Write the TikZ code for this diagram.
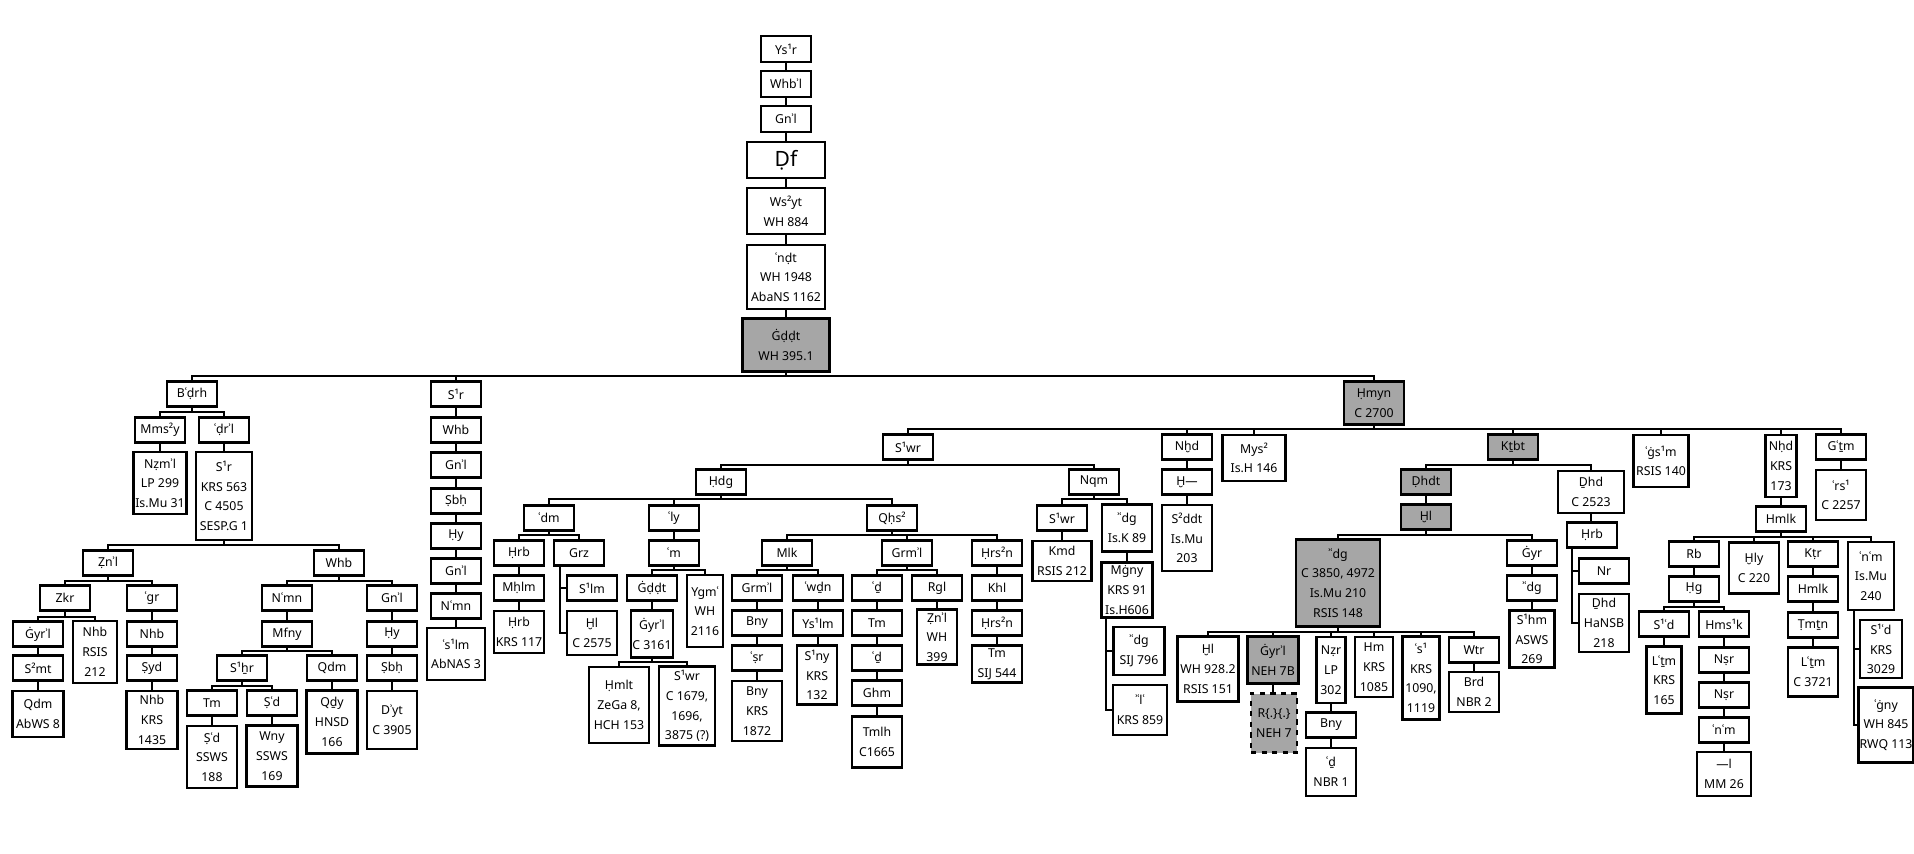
\documentclass[tikz,border=0pt]{standalone}
\usepackage{fontspec}
\setmainfont{Noto Sans}
\definecolor{boxgray}{RGB}{166,166,166}
\tikzset{
  box/.style={draw, line width=1.4pt, fill=white, inner sep=0.5pt, align=center, font=\fontsize{7}{11.2}\selectfont},
  gbox/.style={fill=boxgray},
  dbox/.style={fill=boxgray, dashed},
  edge/.style={line width=1.4pt}
}
\newcommand\B[6][]{\node[box,#1,minimum width=#4*0.02cm,minimum height=#5*0.02cm] (#2) at (#3) {#6};}
\newcommand\bus[3]{\foreach \c in {#2}{\draw[edge] (#1.south) -- (#1.south |- 0,#3) -| (\c.north);}}
\newcommand\ch[2]{\draw[edge] (#1.south) -- (#1.south |- #2.north);}
\begin{document}
\begin{tikzpicture}[x=0.02cm,y=-0.02cm]
\useasboundingbox (0,0) rectangle (1914,854);
% top chain
\B{t1}{786,49}{50}{26}{Ys¹r}
\B{t2}{786,84}{50}{26}{Whbʾl}
\B{t3}{786,119}{50}{26}{Gnʾl}
\B{t4}{786,160}{78}{36}{\fontsize{12}{14}\selectfont\bfseries Ḍf}
\B{t5}{786,211}{78}{46}{Ws²yt\\WH 884}
\B{t6}{786,277}{78}{64}{ʿnḍt\\WH 1948\\AbaNS 1162}
\B[gbox]{t7}{786,345}{87}{53}{Ġḍḍt\\WH 395.1}
% left branch
\B{a1}{192,394}{50}{25}{Bʿḍrh}
\B{a2}{160,430}{50}{25}{Mms²y}
\B{a3}{224,430}{50}{25}{ʿḍrʾl}
\B{a4}{160,483}{53}{62}{Nẓmʾl\\LP 299\\Is.Mu 31}
\B{a5}{224,496}{56}{88}{S¹r\\KRS 563\\C 4505\\SESP.G 1}
\B{a6}{108,563}{50}{25}{Ẓnʾl}
\B{a7}{339,563}{50}{25}{Whb}
\B{a8}{65,598}{50}{25}{Zkr}
\B{a9}{152,598}{50}{25}{ʿgr}
\B{a10}{287,598}{50}{25}{Nʿmn}
\B{a11}{392,598}{50}{25}{Gnʾl}
\B{a12}{38,634}{50}{25}{Ġyrʾl}
\B{a13}{95,652}{44}{62}{Nhb\\RSIS\\212}
\B{a14}{152,634}{50}{25}{Nhb}
\B{a15}{287,634}{50}{25}{Mfny}
\B{a16}{392,634}{50}{25}{Ḥy}
\B{a17}{38,668}{50}{25}{S²mt}
\B{a18}{152,668}{50}{25}{Ṣyd}
\B{a19}{242,668}{50}{25}{S¹ẖr}
\B{a20}{332,668}{50}{25}{Qdm}
\B{a21}{392,668}{50}{25}{Ṣbḥ}
\B{a22}{38,714}{51}{46}{Qdm\\AbWS 8}
\B{a23}{152,720}{51}{58}{Nhb\\KRS\\1435}
\B{a24}{212,703}{50}{25}{Tm}
\B{a25}{272,703}{50}{25}{Ṣʿd}
\B{a26}{332,722}{51}{63}{Qḏy\\HNSD\\166}
\B{a27}{392,720}{50}{58}{Dʾyt\\C 3905}
\B{a28}{212,757}{50}{62}{Ṣʿd\\SSWS\\188}
\B{a29}{272,756}{51}{61}{Wny\\SSWS\\169}
% S1r column
\B{b1}{456,394}{50}{25}{S¹r}
\B{b2}{456,430}{50}{25}{Whb}
\B{b3}{456,465}{50}{25}{Gnʾl}
\B{b4}{456,501}{50}{25}{Ṣbḥ}
\B{b5}{456,536}{50}{25}{Ḥy}
\B{b6}{456,571}{50}{25}{Gnʾl}
\B{b7}{456,606}{50}{25}{Nʿmn}
\B{b8}{456,654}{58}{52}{ʿs¹lm\\AbNAS 3}
% Hmyn
\B[gbox]{h1}{1374,403}{60}{43}{Ḥmyn\\C 2700}
\B{c1}{908,447}{50}{25}{S¹wr}
\B{n1}{1187,447}{50}{25}{Nḫd}
\B{m1}{1254,458}{63}{46}{Mys²\\Is.H 146}
\B[gbox]{k1}{1513,447}{50}{25}{Kṯbt}
\B{g1}{1661,461}{55}{52}{ʿġs¹m\\RSIS 140}
\B{r1}{1781,466}{31}{62}{Nḥd\\KRS\\173}
\B{q1}{1841,447}{50}{25}{Gʿṯm}
\B{c2}{721,482}{50}{25}{Ḥdg}
\B{c3}{1094,482}{50}{25}{Nqm}
\B{d1}{549,518}{50}{25}{ʿdm}
\B{d2}{674,518}{50}{25}{ʿly}
\B{d3}{892,518}{50}{25}{Qḥs²}
\B{e1}{519,553}{50}{25}{Ḥrb}
\B{e2}{579,553}{50}{25}{Grz}
\B{e3}{519,588}{50}{25}{Mḥlm}
\B{e4}{519,632}{50}{42}{Ḥrb\\KRS 117}
\B{e5}{592,588}{50}{25}{S¹lm}
\B{e6}{592,633}{50}{44}{Ḫl\\C 2575}
\B{e7}{674,553}{50}{25}{ʿm}
\B{e8}{652,588}{50}{25}{Ġḍḍt}
\B{e9}{705,611}{36}{72}{Ygmʿ\\WH\\2116}
\B{e10}{652,634}{42}{47}{Ġyrʾl\\C 3161}
\B{e11}{619,705}{60}{76}{Ḥmlt\\ZeGa 8,\\HCH 153}
\B{e12}{687,706}{56}{79}{S¹wr\\C 1679,\\1696,\\3875 (?)}
\B{f1}{787,553}{50}{25}{Mlk}
\B{f2}{907,553}{50}{25}{Grmʾl}
\B{f3}{997,553}{50}{25}{Ḥrs²n}
\B{f4}{757,588}{50}{25}{Grmʾl}
\B{f5}{818,588}{50}{25}{ʿwḏn}
\B{f6}{757,623}{50}{25}{Bny}
\B{f7}{757,658}{50}{25}{ʿṣr}
\B{f8}{757,711}{50}{60}{Bny\\KRS\\1872}
\B{f9}{818,623}{50}{25}{Ys¹lm}
\B{f10}{817,675}{40}{59}{S¹ny\\KRS\\132}
\B{f11}{877,588}{50}{25}{ʿḏ}
\B{f12}{937,588}{50}{25}{Rgl}
\B{f13}{877,623}{50}{25}{Tm}
\B{f14}{877,658}{50}{25}{ʿḏ}
\B{f15}{877,693}{50}{25}{Ghm}
\B{f16}{877,742}{50}{51}{Tmlh\\C1665}
\B{f17}{937,637}{40}{55}{Ẓnʾl\\WH\\399}
\B{f18}{997,588}{50}{25}{Khl}
\B{f19}{997,623}{50}{25}{Ḥrs²n}
\B{f20}{997,664}{50}{37}{Tm\\SIJ 544}
\B{g2}{1062,518}{50}{25}{S¹wr}
\B{g3}{1127,528}{50}{47}{ʾʿdg\\Is.K 89}
\B{g4}{1062,561}{59}{40}{Kmd\\RSIS 212}
\B{g5}{1127,590}{51}{55}{Mġny\\KRS 91\\Is.H606}
\B{g6}{1139,651}{51}{48}{ʾʿdg\\SIJ 796}
\B{g7}{1140,710}{54}{50}{ʾʿlʿ\\KRS 859}
\B{n2}{1187,482}{50}{25}{Ḫ---}
\B{n3}{1187,538}{50}{66}{S²ddt\\Is.Mu\\203}
\B[gbox]{k2}{1426,482}{50}{25}{Ḍhdt}
\B{k3}{1591,492}{66}{42}{Ḏhd\\C 2523}
\B[gbox]{k4}{1426,517}{50}{25}{Ḫl}
\B[gbox]{k5}{1338,583}{84}{87}{ʾʿdg\\C 3850, 4972\\Is.Mu 210\\RSIS 148}
\B{k6}{1532,553}{50}{25}{Ġyr}
\B{k7}{1532,588}{50}{25}{ʾʿdg}
\B{k8}{1532,639}{45}{57}{S¹hm\\ASWS\\269}
\B{p1}{1208,669}{61}{65}{Ḫl\\WH 928.2\\RSIS 151}
\B[gbox]{p2}{1273,660}{51}{47}{Ġyrʾl\\NEH 7B}
\B{p3}{1331,670}{29}{66}{Nẓr\\LP\\302}
\B{p4}{1374,667}{38}{60}{Hm\\KRS\\1085}
\B{p5}{1421,678}{37}{83}{ʿs¹\\KRS\\1090,\\1119}
\B{p6}{1474,650}{50}{25}{Wtr}
\B[dbox]{p7}{1274,723}{46}{59}{R\{.\}\{.\}\\NEH 7}
\B{p8}{1331,725}{50}{25}{Bny}
\B{p9}{1331,772}{50}{48}{ʿḏ\\NBR 1}
\B{p10}{1474,692}{50}{40}{Brd\\NBR 2}
\B{k9}{1592,535}{50}{25}{Ḥrb}
\B{k10}{1604,571}{50}{25}{Nr}
\B{k11}{1604,623}{50}{58}{Ḏhd\\HaNSB\\218}
\B{r2}{1781,519}{50}{25}{Hmlk}
\B{s1}{1694,554}{50}{25}{Rb}
\B{s2}{1754,568}{50}{51}{Ḫly\\C 220}
\B{s3}{1813,554}{50}{25}{Kṭr}
\B{s4}{1871,576}{46}{68}{ʿnʿm\\Is.Mu\\240}
\B{s5}{1694,589}{50}{25}{Ḥg}
\B{s6}{1664,624}{50}{25}{S¹ʿd}
\B{s7}{1724,624}{50}{25}{Hms¹k}
\B{s8}{1664,680}{35}{67}{Lʿṯm\\KRS\\165}
\B{s9}{1724,660}{50}{25}{Nṣr}
\B{s10}{1724,695}{50}{25}{Nṣr}
\B{s11}{1724,730}{50}{25}{ʿnʿm}
\B{s12}{1724,774}{54}{44}{---l\\MM 26}
\B{s13}{1813,589}{50}{25}{Hmlk}
\B{s14}{1813,625}{50}{25}{Ṭmṯn}
\B{s15}{1813,672}{50}{49}{Lʿṯm\\C 3721}
\B{s16}{1881,649}{42}{58}{S¹ʿd\\KRS\\3029}
\B{s17}{1886,725}{55}{75}{ʿġny\\WH 845\\RWQ 113}
\B{q2}{1841,495}{50}{50}{ʿrs¹\\C 2257}
% edges
\begin{scope}[on background layer/.try]
\end{scope}
\ch{t1}{t2}\ch{t2}{t3}\ch{t3}{t4}\ch{t4}{t5}\ch{t5}{t6}\ch{t6}{t7}
\bus{t7}{a1,b1,h1}{376}
\bus{a1}{a2,a3}{412}
\ch{a2}{a4}\ch{a3}{a5}
\bus{a5}{a6,a7}{545}
\bus{a6}{a8,a9}{581}
\bus{a7}{a10,a11}{581}
\bus{a8}{a12,a13}{617}
\ch{a9}{a14}\ch{a14}{a18}\ch{a18}{a23}\ch{a12}{a17}\ch{a17}{a22}\ch{a10}{a15}
\bus{a15}{a19,a20}{651}
\bus{a19}{a24,a25}{686}
\ch{a24}{a28}\ch{a25}{a29}\ch{a20}{a26}\ch{a11}{a16}\ch{a16}{a21}\ch{a21}{a27}
\ch{b1}{b2}\ch{b2}{b3}\ch{b3}{b4}\ch{b4}{b5}\ch{b5}{b6}\ch{b6}{b7}\ch{b7}{b8}
\bus{h1}{c1,n1,m1,k1,g1,r1,q1}{429}
\bus{c1}{c2,c3}{465}
\bus{c2}{d1,d2,d3}{499}
\bus{d1}{e1,e2}{535}
\ch{e1}{e3}\ch{e3}{e4}
\draw[edge] (e2.south -| 560,0) |- (e5.west) (e2.south -| 560,0) |- (e6.west);
\ch{d2}{e7}
\bus{e7}{e8,e9}{570}
\ch{e8}{e10}
\bus{e10}{e11,e12}{662}
\bus{d3}{f1,f2,f3}{535}
\bus{f1}{f4,f5}{570}
\ch{f4}{f6}\ch{f6}{f7}\ch{f7}{f8}\ch{f5}{f9}\ch{f9}{f10}
\bus{f2}{f11,f12}{570}
\ch{f11}{f13}\ch{f13}{f14}\ch{f14}{f15}\ch{f15}{f16}\ch{f12}{f17}
\ch{f3}{f18}\ch{f18}{f19}\ch{f19}{f20}
\bus{c3}{g2,g3}{499}
\ch{g2}{g4}\ch{g3}{g5}
\draw[edge] (g5.south -| 1106,0) |- (g6.west) (g5.south -| 1106,0) |- (g7.west);
\ch{n1}{n2}\ch{n2}{n3}
\bus{k1}{k2,k3}{465}
\ch{k2}{k4}
\bus{k4}{k5,k6}{535}
\ch{k6}{k7}\ch{k7}{k8}
\bus{k5}{p1,p2,p3,p4,p5,p6}{632}
\ch{p2}{p7}\ch{p3}{p8}\ch{p8}{p9}\ch{p6}{p10}
\ch{k3}{k9}
\draw[edge] (k9.south -| 1572,0) |- (k10.west) (k9.south -| 1572,0) |- (k11.west);
\ch{r1}{r2}
\bus{r2}{s1,s2,s3,s4}{537}
\ch{s1}{s5}
\bus{s5}{s6,s7}{607}
\ch{s6}{s8}\ch{s7}{s9}\ch{s9}{s10}\ch{s10}{s11}\ch{s11}{s12}
\ch{s3}{s13}\ch{s13}{s14}\ch{s14}{s15}
\draw[edge] (s4.south -| 1854,0) |- (s16.west) (s4.south -| 1854,0) |- (s17.west);
\ch{q1}{q2}
\end{tikzpicture}
\end{document}
